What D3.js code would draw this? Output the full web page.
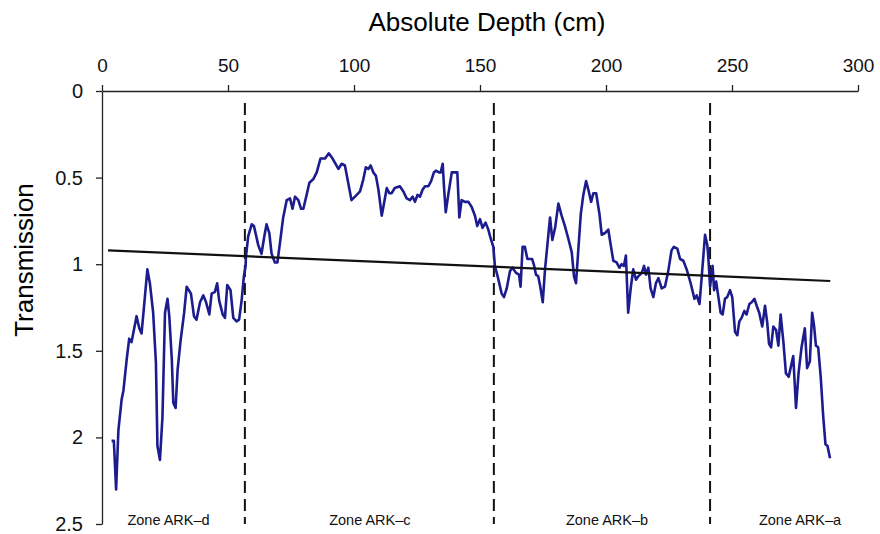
<!DOCTYPE html>
<html>
<head>
<meta charset="utf-8">
<script src="https://cdn.jsdelivr.net/npm/d3@7"></script>
<style>
  body { margin: 0; background: #fff; }
  svg { font-family: "Liberation Sans", Arial, sans-serif; }
  .axis path, .axis line { stroke: #222; stroke-width: 1.3; }
  .axis text { fill: #111; }
</style>
</head>
<body>
<svg width="880" height="534"></svg>
<script>
// depth (cm) and transmission
const depth = [3.8, 4.7, 5.6, 6.5, 7.8, 8.5, 9.8, 10.8, 11.7, 12.8, 13.7, 14.8, 15.7, 16.7, 18, 19, 20.3, 21.4, 22, 23,
  24, 25, 26, 26.7, 27.7, 28.3, 29.2, 30, 31.2, 32.6, 33.6, 35.3, 36.5, 37.5, 38.9, 40.2, 41.3, 42.6, 43.5, 44.8,
  45.7, 46.5, 47.9, 48.8, 49.7, 51, 52.1, 53.4, 54.4, 55.4, 56.3, 57, 57.1, 58, 59.4, 60.3, 62, 63.3, 64.4, 65.3,
  66.4, 67.3, 68.6, 69.6, 70.6, 71.9, 73.3, 74.6, 75.6, 76.6, 77.9, 79, 79.9, 81.2, 82.3, 83.8, 85.2, 86.7, 88.5, 90,
  91.5, 93.8, 95.1, 96.4, 97.7, 99, 100.4, 102.4, 103.7, 104.7, 105.7, 106.6, 107.7, 108.7, 109.7, 111, 111.9, 113, 114, 114.9,
  116.2, 118.2, 119.6, 120.9, 122.2, 123.3, 124.2, 125.2, 126.2, 127.2, 128.2, 129.5, 130.6, 131.7, 132.5, 133.7, 134.4, 135.2, 135.7, 136.4,
  137.4, 138.8, 140.1, 141, 141.8, 142.7, 144, 145.4, 146.7, 148, 148.9, 150, 151, 152.2, 153.3, 154.2, 155.3, 155.9, 157, 158.6,
  159.5, 160.6, 161.9, 162.9, 164.3, 165.5, 166.1, 166.9, 167.8, 168.8, 169.6, 170.7, 171.5, 172.2, 173.1, 173.8, 174.9, 175.8, 176.8, 177.8,
  178.7, 179.8, 181.1, 182.4, 183.7, 185, 186.4, 187.3, 188.1, 189, 190, 191, 192.1, 193, 194.1, 195, 196.1, 197.4, 198.3, 199.6,
  200.9, 202, 202.9, 204.2, 205.3, 206.2, 207.1, 207.9, 208.8, 209.8, 210.8, 211.9, 212.8, 214.2, 215.1, 215.9, 216.8, 217.7, 218.8, 219.8,
  220.8, 222.1, 223.4, 224.7, 226, 226.9, 228.3, 229.4, 230.7, 232, 233.6, 235.1, 236, 237.1, 238, 239.3, 240.2, 240.6, 241.3, 242.3,
  242.9, 243.7, 244.6, 245.5, 246.3, 247.2, 248.1, 249.2, 250.1, 251.2, 252.1, 252.9, 253.8, 254.9, 255.8, 256.9, 257.8, 258.9, 259.8, 260.8,
  262, 263.1, 264, 264.7, 265.5, 266.4, 267.5, 268.4, 269.3, 270.4, 271.4, 272.5, 273.4, 274.3, 275.4, 276.4, 277.6, 278.9, 279.8, 280.9,
  281.8, 282.6, 283.3, 284.2, 285.2, 286.2, 287.1, 287.9, 288.9];
const transmission = [2.02, 2.02, 2.30, 1.96, 1.78, 1.73, 1.55, 1.43, 1.45, 1.37, 1.30, 1.37, 1.40, 1.24, 1.03, 1.11, 1.28, 1.57, 2.05, 2.13,
  1.88, 1.28, 1.20, 1.30, 1.55, 1.80, 1.83, 1.61, 1.44, 1.28, 1.13, 1.17, 1.30, 1.32, 1.22, 1.18, 1.22, 1.29, 1.17, 1.16,
  1.11, 1.21, 1.29, 1.31, 1.12, 1.15, 1.31, 1.33, 1.32, 1.21, 1.07, 1.01, 0.96, 0.84, 0.77, 0.78, 0.89, 0.94, 0.84, 0.77,
  0.82, 0.94, 0.99, 0.99, 0.88, 0.73, 0.63, 0.62, 0.68, 0.61, 0.63, 0.68, 0.68, 0.60, 0.53, 0.51, 0.47, 0.39, 0.39, 0.36,
  0.39, 0.45, 0.42, 0.43, 0.53, 0.63, 0.61, 0.58, 0.51, 0.44, 0.45, 0.43, 0.47, 0.49, 0.57, 0.72, 0.65, 0.56, 0.59, 0.59,
  0.56, 0.55, 0.58, 0.62, 0.63, 0.61, 0.64, 0.60, 0.61, 0.57, 0.55, 0.55, 0.52, 0.47, 0.46, 0.47, 0.47, 0.42, 0.55, 0.70,
  0.60, 0.47, 0.47, 0.47, 0.73, 0.63, 0.64, 0.64, 0.67, 0.72, 0.78, 0.74, 0.79, 0.76, 0.80, 0.85, 0.90, 1.01, 1.07, 1.17,
  1.19, 1.14, 1.04, 1.02, 1.05, 1.06, 1.13, 0.90, 0.90, 0.97, 0.97, 0.97, 1.01, 1.06, 1.07, 1.12, 1.22, 1.03, 0.88, 0.73,
  0.86, 0.79, 0.65, 0.72, 0.78, 0.85, 0.93, 1.07, 1.11, 0.92, 0.71, 0.60, 0.52, 0.57, 0.64, 0.59, 0.59, 0.71, 0.83, 0.82,
  0.80, 0.90, 0.98, 0.99, 1.02, 1.00, 1.01, 0.95, 1.28, 1.14, 1.03, 1.09, 1.07, 1.05, 1.01, 1.06, 1.02, 1.14, 1.19, 1.11,
  1.08, 1.14, 1.13, 1.04, 0.92, 0.90, 0.91, 0.97, 0.98, 1.03, 1.11, 1.20, 1.18, 1.23, 1.07, 0.83, 0.89, 0.96, 1.13, 1.01,
  1.15, 1.10, 1.19, 1.28, 1.29, 1.20, 1.19, 1.15, 1.19, 1.39, 1.41, 1.33, 1.31, 1.27, 1.29, 1.23, 1.22, 1.20, 1.24, 1.28,
  1.36, 1.24, 1.34, 1.46, 1.48, 1.36, 1.38, 1.47, 1.29, 1.45, 1.63, 1.65, 1.59, 1.53, 1.83, 1.63, 1.48, 1.37, 1.60, 1.56,
  1.28, 1.36, 1.47, 1.48, 1.65, 1.88, 2.04, 2.05, 2.12];

// linear trend line end points
const trendDepth = [2.4, 289];
const trendValue = [0.92, 1.097];

// zone boundaries and labels
const zoneBounds = [56.7, 155.5, 241.3];
const zoneNames = ["Zone ARK\u2013d", "Zone ARK\u2013c", "Zone ARK\u2013b", "Zone ARK\u2013a"];
const zoneCentres = [26.4, 106.3, 200.4, 277];

const xTicks = [0, 50, 100, 150, 200, 250, 300];
const yTicks = [0, 0.5, 1, 1.5, 2, 2.5];

const svg = d3.select("svg");
const margin = {top: 91, left: 102};
const width = 756, height = 433;

const g = svg.append("g")
  .attr("transform", "translate(" + margin.left + "," + margin.top + ")");

const x = d3.scaleLinear().domain([0, 300]).range([0, width]);
const y = d3.scaleLinear().domain([0, 2.5]).range([0, height]);

g.append("g")
  .attr("class", "axis")
  .call(d3.axisTop(x).tickValues(xTicks).tickSize(6).tickSizeOuter(0).tickPadding(13))
  .call(a => a.selectAll("text").attr("font-size", 19));

g.append("g")
  .attr("class", "axis")
  .call(d3.axisLeft(y).tickValues(yTicks).tickSize(6).tickSizeOuter(0).tickPadding(13)
    .tickFormat(d3.format("")))
  .call(a => a.selectAll("text").attr("font-size", 20));

svg.append("text")
  .attr("x", 487).attr("y", 31)
  .attr("text-anchor", "middle")
  .attr("font-size", 26)
  .text("Absolute Depth (cm)");

svg.append("text")
  .attr("transform", "translate(33,260) rotate(-90)")
  .attr("text-anchor", "middle")
  .attr("font-size", 26)
  .text("Transmission");

// zone dividers
g.selectAll(".zone")
  .data(zoneBounds)
  .enter().append("line")
  .attr("x1", d => x(d)).attr("x2", d => x(d))
  .attr("y1", y(0.07)).attr("y2", y(2.5))
  .attr("stroke", "#111")
  .attr("stroke-width", 2)
  .attr("stroke-dasharray", "12,6");

g.selectAll(".zlabel")
  .data(zoneNames)
  .enter().append("text")
  .attr("x", (d, i) => x(zoneCentres[i]))
  .attr("y", 434)
  .attr("text-anchor", "middle")
  .attr("font-size", 14.5)
  .attr("fill", "#111")
  .text(d => d);

// transmission curve
const pts = depth.map((d, i) => [d, transmission[i]]);
g.append("path")
  .datum(pts)
  .attr("fill", "none")
  .attr("stroke", "#1c1c8f")
  .attr("stroke-width", 2.6)
  .attr("stroke-linejoin", "round")
  .attr("d", d3.line().x(d => x(d[0])).y(d => y(d[1])));

// trend line
g.append("path")
  .datum(trendDepth.map((d, i) => [d, trendValue[i]]))
  .attr("fill", "none")
  .attr("stroke", "#111")
  .attr("stroke-width", 2.2)
  .attr("d", d3.line().x(d => x(d[0])).y(d => y(d[1])));
</script>
</body>
</html>
